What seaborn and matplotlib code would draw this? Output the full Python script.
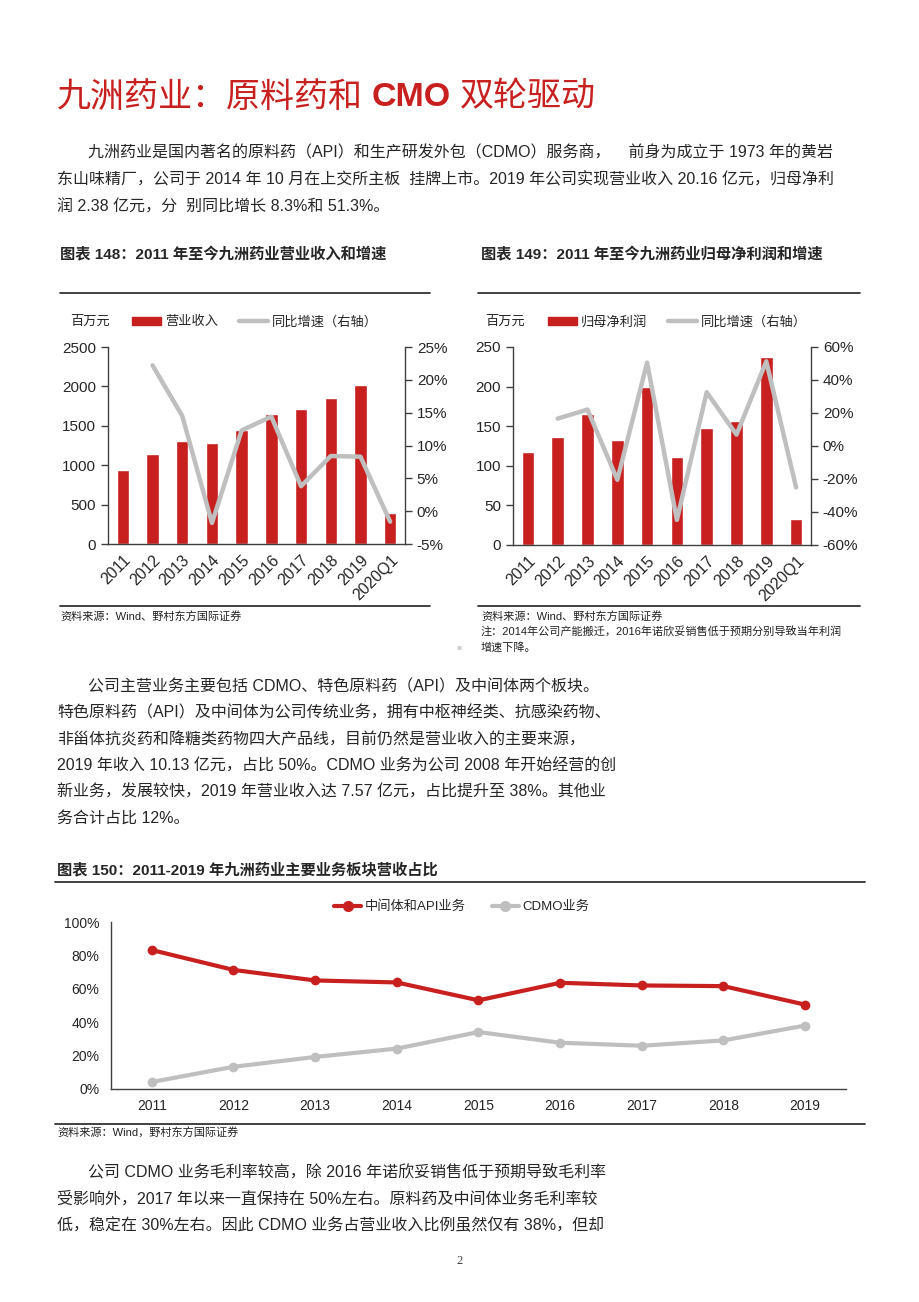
import matplotlib
matplotlib.use("Agg")
import matplotlib.pyplot as plt
import numpy as np
import pandas as pd
import seaborn as sns
from matplotlib.lines import Line2D
from matplotlib.patches import Patch

# -----------------------------
# Data
# -----------------------------
years = ["2011", "2012", "2013", "2014", "2015", "2016", "2017", "2018", "2019", "2020Q1"]
revenue = [933, 1140, 1305, 1282, 1442, 1648, 1713, 1858, 2012, 389]
revenue_growth = [np.nan, 22.2, 14.5, -1.8, 12.3, 14.4, 3.8, 8.4, 8.3, -1.6]
net_profit = [117, 136, 166, 133, 200, 111, 148, 157, 238, 32.5]
profit_growth = [np.nan, 16.6, 22.1, -20.5, 50.5, -44.8, 32.6, 6.9, 51.3, -25.1]

share_years = ["2011", "2012", "2013", "2014", "2015", "2016", "2017", "2018", "2019"]
api_share = [83.2, 71.3, 65.0, 63.8, 53.1, 63.6, 62.0, 61.6, 50.5]
cdmo_share = [4.2, 13.3, 19.2, 24.2, 34.1, 27.7, 25.9, 29.1, 38.0]

left_ticks_rev = [0, 500, 1000, 1500, 2000, 2500]
right_ticks_rev = [-5, 0, 5, 10, 15, 20, 25]
left_ticks_np = [0, 50, 100, 150, 200, 250]
right_ticks_np = [-60, -40, -20, 0, 20, 40, 60]
share_ticks = [0, 20, 40, 60, 80, 100]

RED = "#C8201F"
GRAY = "#BFBFBF"
AXC = "#404040"
W, H = 920, 1302

sns.set_style("white")
plt.rcParams["font.family"] = ["Liberation Sans", "Noto Sans CJK SC"]
plt.rcParams["axes.unicode_minus"] = False

fig = plt.figure(figsize=(W / 100, H / 100), dpi=100)


def px_box(l, t, r, b):
    return [l / W, 1 - b / H, (r - l) / W, (b - t) / H]


def ftext(x, y, s, **kw):
    kw.setdefault("va", "center")
    return fig.text(x / W, 1 - y / H, s, **kw)


def rule(x0, x1, y, lw=1.3, color="#333333"):
    fig.add_artist(Line2D([x0 / W, x1 / W], [1 - y / H] * 2, lw=lw, color=color))


def style_axis(ax, sides):
    for side in ["top", "bottom", "left", "right"]:
        ax.spines[side].set_visible(side in sides)
        ax.spines[side].set_color(AXC)
        ax.spines[side].set_linewidth(1)
    ax.tick_params(which="major", direction="out", length=5, width=1, color=AXC)


def category_ticks(ax, labels, rotation=0, size=11):
    n = len(labels)
    ax.set_xticks(np.arange(-0.5, n, 1))
    ax.set_xticklabels([])
    ax.set_xticks(np.arange(n), minor=True)
    if rotation:
        ax.set_xticklabels(labels, minor=True, rotation=rotation, ha="right",
                           rotation_mode="anchor", fontsize=size)
    else:
        ax.set_xticklabels(labels, minor=True, fontsize=size)
    ax.tick_params(axis="x", which="minor", length=0, pad=6)
    ax.set_xlim(-0.5, n - 0.5)


def bar_line_chart(box, values, growth, lticks, rticks, bar_label, legend_x, unit_x):
    ax = fig.add_axes(px_box(*box))
    df = pd.DataFrame({"year": years, "value": values})
    sns.barplot(data=df, x="year", y="value", color=RED, saturation=1,
                width=0.42, errorbar=None, ax=ax)
    ax.set_ylim(lticks[0], lticks[-1])
    ax.set_yticks(lticks)
    ax.set_yticklabels([str(t) for t in lticks], fontsize=11)
    ax.set_xlabel("")
    ax.set_ylabel("")
    style_axis(ax, ["left", "bottom"])
    category_ticks(ax, years, rotation=45, size=11.5)

    ax2 = ax.twinx()
    sns.lineplot(x=np.arange(len(years)), y=growth, color=GRAY, lw=3.2, ax=ax2)
    ax2.set_ylim(rticks[0], rticks[-1])
    ax2.set_yticks(rticks)
    ax2.set_yticklabels([f"{t}%" for t in rticks], fontsize=11)
    style_axis(ax2, ["right"])
    ax2.set_xlim(-0.5, len(years) - 0.5)

    ftext(unit_x, 322, "百万元", fontsize=9.5)
    handles = [Patch(color=RED), Line2D([], [], color=GRAY, lw=3.2)]
    ax2.legend(handles, [bar_label, "同比增速（右轴）"], ncol=2, frameon=False,
               loc="center left", bbox_to_anchor=(legend_x / W, 1 - 322 / H),
               bbox_transform=fig.transFigure, fontsize=9.5, handlelength=2.2,
               handleheight=0.6, columnspacing=1.6, handletextpad=0.3,
               borderaxespad=0, borderpad=0)
    return ax


# -----------------------------
# Page title and first paragraph
# -----------------------------
x = 57
for s, w, gap in [("九洲药业：原料药和", "normal", 9), ("CMO", "bold", 9), ("双轮驱动", "normal", 0)]:
    t = ftext(x, 98, s, fontsize=24.5, fontweight=w, color=RED)
    fig.canvas.draw()
    x += t.get_window_extent().width + gap

BODY = 11.5
ftext(88, 153, "九洲药业是国内著名的原料药（API）和生产研发外包（CDMO）服务商，    前身为成立于 1973 年的黄岩", fontsize=BODY)
ftext(57, 180, "东山味精厂，公司于 2014 年 10 月在上交所主板  挂牌上市。2019 年公司实现营业收入 20.16 亿元，归母净利", fontsize=BODY)
ftext(57, 207, "润 2.38 亿元，分  别同比增长 8.3%和 51.3%。", fontsize=BODY)

# -----------------------------
# Charts 148 / 149
# -----------------------------
ftext(60, 255, "图表 148：2011 年至今九洲药业营业收入和增速", fontsize=11, fontweight="bold")
ftext(481, 255, "图表 149：2011 年至今九洲药业归母净利润和增速", fontsize=11, fontweight="bold")
rule(60, 430, 293)
rule(478, 860, 293)

bar_line_chart((108, 347, 405, 544), revenue, revenue_growth, left_ticks_rev,
               right_ticks_rev, "营业收入", 132, 70)
bar_line_chart((513, 347, 811, 545), net_profit, profit_growth, left_ticks_np,
               right_ticks_np, "归母净利润", 548, 485)

rule(60, 430, 606)
rule(478, 860, 606)
ftext(60, 616, "资料来源：Wind、野村东方国际证券", fontsize=8, color="#222222")
ftext(481, 616, "资料来源：Wind、野村东方国际证券", fontsize=8, color="#222222")
ftext(481, 632, "注：2014年公司产能搬迁，2016年诺欣妥销售低于预期分别导致当年利润", fontsize=8, color="#222222")
ftext(481, 648, "增速下降。", fontsize=8, color="#222222")
ftext(457, 648, "■", fontsize=6, color="#D0D0D0")

# -----------------------------
# Second paragraph
# -----------------------------
para2 = [
    (88, "公司主营业务主要包括 CDMO、特色原料药（API）及中间体两个板块。"),
    (57, "特色原料药（API）及中间体为公司传统业务，拥有中枢神经类、抗感染药物、"),
    (57, "非甾体抗炎药和降糖类药物四大产品线，目前仍然是营业收入的主要来源，"),
    (57, "2019 年收入 10.13 亿元，占比 50%。CDMO 业务为公司 2008 年开始经营的创"),
    (57, "新业务，发展较快，2019 年营业收入达 7.57 亿元，占比提升至 38%。其他业"),
    (57, "务合计占比 12%。"),
]
for i, (lx, s) in enumerate(para2):
    ftext(lx, 687 + i * 26.2, s, fontsize=BODY)

# -----------------------------
# Chart 150
# -----------------------------
ftext(57, 870, "图表 150：2011-2019 年九洲药业主要业务板块营收占比", fontsize=11, fontweight="bold")
rule(55, 865, 882)

ax3 = fig.add_axes(px_box(111, 922, 846, 1089))
share_df = pd.DataFrame({"x": np.arange(len(share_years)), "api": api_share, "cdmo": cdmo_share})
sns.lineplot(data=share_df, x="x", y="api", color=RED, lw=3, marker="o",
             markersize=7, markeredgewidth=0, ax=ax3)
sns.lineplot(data=share_df, x="x", y="cdmo", color=GRAY, lw=3, marker="o",
             markersize=7, markeredgewidth=0, ax=ax3)
ax3.set_ylim(0, 100)
ax3.set_yticks(share_ticks)
ax3.set_yticklabels([f"{t}%" for t in share_ticks], fontsize=10)
ax3.set_xlabel("")
ax3.set_ylabel("")
style_axis(ax3, ["left", "bottom"])
category_ticks(ax3, share_years, size=10)
ax3.tick_params(axis="x", which="minor", pad=7)
h3 = [Line2D([], [], color=RED, lw=3, marker="o", markersize=7),
      Line2D([], [], color=GRAY, lw=3, marker="o", markersize=7)]
ax3.legend(h3, ["中间体和API业务", "CDMO业务"], ncol=2, frameon=False,
           loc="center", bbox_to_anchor=(462 / W, 1 - 907 / H),
           bbox_transform=fig.transFigure, fontsize=9.5, handlelength=2.0,
           columnspacing=2.0, handletextpad=0.3, borderpad=0)

rule(55, 865, 1124)
ftext(57, 1133, "资料来源：Wind，野村东方国际证券", fontsize=8, color="#222222")

# -----------------------------
# Third paragraph and page number
# -----------------------------
para3 = [
    (88, "公司 CDMO 业务毛利率较高，除 2016 年诺欣妥销售低于预期导致毛利率"),
    (57, "受影响外，2017 年以来一直保持在 50%左右。原料药及中间体业务毛利率较"),
    (57, "低，稳定在 30%左右。因此 CDMO 业务占营业收入比例虽然仅有 38%，但却"),
]
for i, (lx, s) in enumerate(para3):
    ftext(lx, 1172 + i * 26.5, s, fontsize=BODY)

ftext(460, 1261, "2", fontsize=9, ha="center", family="Liberation Serif", color="#444444")

fig.savefig("out.png", dpi=100)
plt.close(fig)
